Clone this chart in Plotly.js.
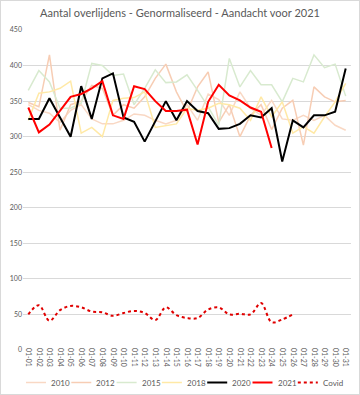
<!DOCTYPE html>
<html>
<head>
<meta charset="utf-8">
<script src="https://cdn.plot.ly/plotly-3.0.1.min.js"></script>
<style>
html,body{margin:0;padding:0;background:#fff;}
#wrap{position:relative;width:360px;height:395px;}
#chart{width:360px;height:395px;}
#frame{position:absolute;left:0;top:0;width:360px;height:395px;box-sizing:border-box;border:1px solid #d9d9d9;pointer-events:none;}
</style>
</head>
<body>
<div id="wrap"><div id="chart"></div><div id="frame"></div></div>
<script>
// ---- data ----
const days = ["01-01","01-02","01-03","01-04","01-05","01-06","01-07","01-08","01-09","01-10",
  "01-11","01-12","01-13","01-14","01-15","01-16","01-17","01-18","01-19","01-20",
  "01-21","01-22","01-23","01-24","01-25","01-26","01-27","01-28","01-29","01-30","01-31"];

const y2010 = [345,337,333,320,337,345,325,318,318,323,332,330,323,318,323,345,323,360,352,330,363,340,330,351,325,323,330,323,330,316,309];
const y2012 = [348,342,415,309,345,350,372,368,330,345,340,356,382,402,363,335,370,391,320,345,300,330,345,310,340,351,288,370,356,349,351];
const y2015 = [365,393,377,340,340,347,403,400,386,388,345,368,394,376,377,387,365,342,316,410,370,393,373,373,349,382,377,415,397,402,357];
const y2018 = [323,361,363,368,378,305,313,300,351,354,355,363,313,315,318,340,337,340,347,345,340,323,356,328,349,305,314,305,328,349,375];
const y2020 = [325,325,354,327,300,371,325,382,389,327,321,293,322,350,323,350,336,333,311,312,318,330,327,340,265,323,313,330,330,335,396];
const y2021 = [341,306,317,337,356,360,368,378,330,325,371,367,350,336,336,338,289,349,373,358,351,341,335,284];
const covid = [50,63,41,56,62,60,54,53,48,52,55,52,42,60,49,45,45,57,60,50,51,50,66,39,43,50];

const names  = ["2010","2012","2015","2018","2020","2021","Covid"];
const series = [y2010,y2012,y2015,y2018,y2020,y2021,covid];
const colors = ["#F9D8C4","#F7CDB4","#D8EACF","#FFE9A6","#000000","#FF0000","#E00000"];
const widths = [1.5,1.5,1.5,1.5,2,2,2];
const dashes = ["solid","solid","solid","solid","solid","solid","dot"];
const shapesL= ["linear","linear","linear","linear","linear","linear","spline"];

const traces = series.map((vals,k)=>({
  type:"scatter", mode:"lines", name:names[k],
  x: days.slice(0, vals.length), y: vals,
  line:{color:colors[k], width:widths[k], dash:dashes[k], shape:shapesL[k]},
  showlegend:false, hoverinfo:"skip"
}));

// ---- custom one-row legend (layout) ----
const L = 23, W = 328, T = 30, H = 320;
const legShapes = [], legAnn = [];
names.forEach((n,k)=>{
  const x0 = 26 + k*45.3, x1 = x0 + 20, yPx = 382.5;
  const yP = (T + H - yPx)/H;
  legShapes.push({type:"line", xref:"paper", yref:"paper",
    x0:(x0-L)/W, x1:(x1-L)/W, y0:yP, y1:yP,
    line:{color:colors[k], width:widths[k], dash:dashes[k]}});
  legAnn.push({xref:"paper", yref:"paper", x:(x1+3-L)/W, y:yP, xanchor:"left", yanchor:"middle",
    text:n, showarrow:false, font:{family:"Lato, 'Liberation Sans', sans-serif", size:8, color:"#595959"}});
});

const layout = {
  width:360, height:395,
  margin:{l:L, r:360-L-W, t:T, b:395-T-H, pad:0},
  paper_bgcolor:"#ffffff", plot_bgcolor:"#ffffff",
  title:{text:"Aantal overlijdens - Genormaliseerd - Aandacht voor 2021",
    font:{family:"Lato, 'Open Sans', sans-serif", size:11, color:"#595959"},
    x:0.5, xref:"container", xanchor:"center", y:0.967, yref:"container", yanchor:"middle"},
  xaxis:{type:"category", categoryarray:days, range:[-0.5,30.5], tickangle:90,
    showgrid:false, showline:false, zeroline:false, ticks:"", ticklabelstandoff:-3,
    tickfont:{family:"Lato, 'Liberation Sans', sans-serif", size:7, color:"#595959"}},
  yaxis:{range:[0,450], dtick:50, tick0:0, showgrid:true, gridcolor:"#d9d9d9", gridwidth:1,
    zeroline:false, showline:false, ticks:"", ticklen:0,
    tickfont:{family:"Lato, 'Liberation Sans', sans-serif", size:7, color:"#595959"}},
  shapes:legShapes, annotations:legAnn, showlegend:false
};

Plotly.newPlot("chart", traces, layout, {staticPlot:true, displayModeBar:false});
</script>
</body>
</html>
